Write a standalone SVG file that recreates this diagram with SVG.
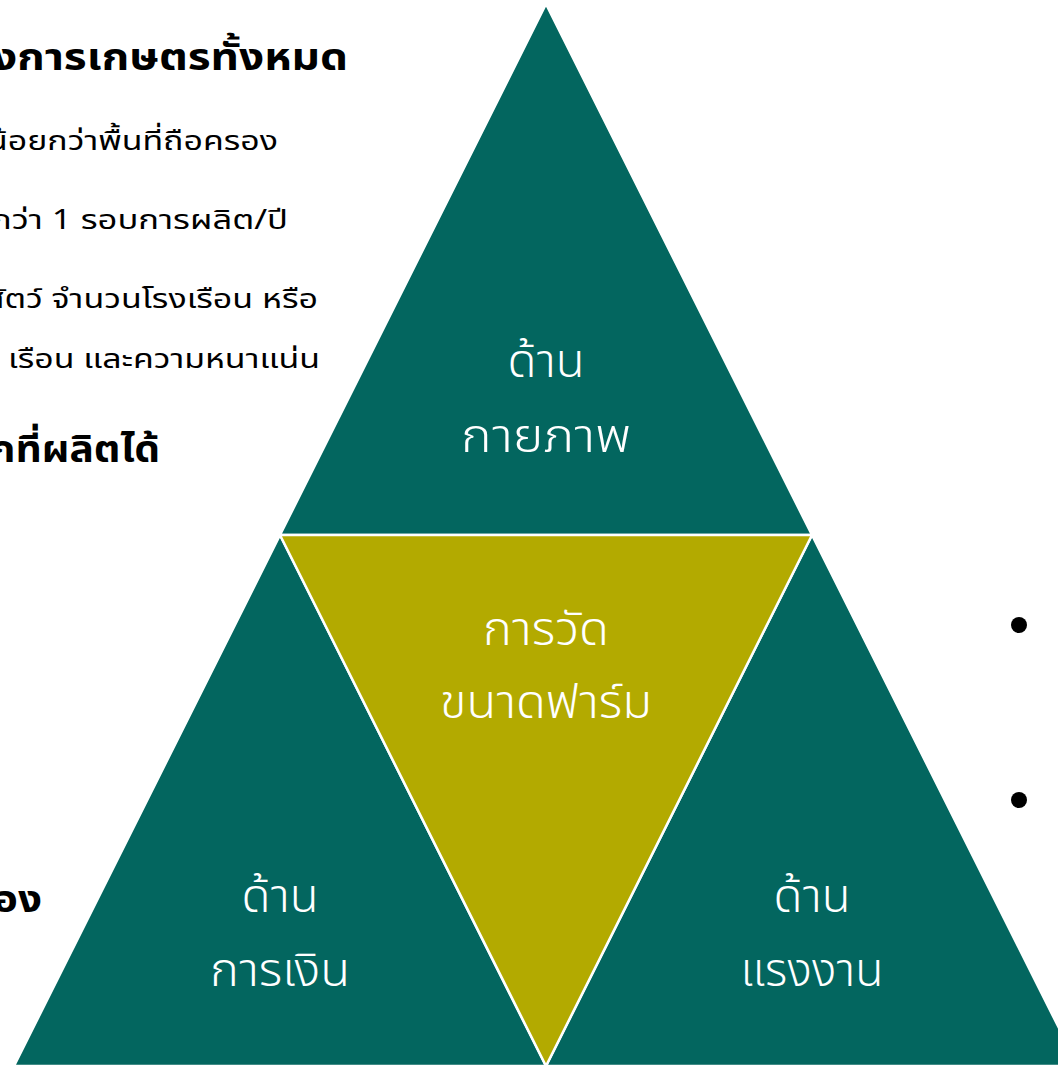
<svg xmlns="http://www.w3.org/2000/svg" width="1058" height="1066" viewBox="0 0 1058 1066">
<style>
.tri{fill:#03665F;stroke:#ffffff;stroke-width:2.5}
.mid{fill:#B3AA00;stroke:#ffffff;stroke-width:2.5}
.lbl{font-family:"Noto Sans Thai","Noto Sans","Noto Sans CJK SC",sans-serif;font-size:46px;fill:#ffffff;text-anchor:middle;font-weight:350}
.body{font-family:"Noto Sans Thai","Noto Sans","Noto Sans CJK SC",sans-serif;font-size:27px;fill:#000000}
.head{font-family:"Noto Sans Thai","Noto Sans","Noto Sans CJK SC",sans-serif;font-size:37px;font-weight:700;fill:#000000}
</style>
<rect width="1058" height="1066" fill="#ffffff"/>
<g id="left-text">
<text class="head" x="-8" y="70" textLength="356" lengthAdjust="spacingAndGlyphs">งการเกษตรทั้งหมด</text>
<text class="body" x="-13" y="150" textLength="291" lengthAdjust="spacingAndGlyphs">น้อยกว่าพื้นที่ถือครอง</text>
<text class="body" x="-9" y="229" textLength="297" lengthAdjust="spacingAndGlyphs">กว่า 1 รอบการผลิต/ปี</text>
<text class="body" x="-15" y="308" textLength="333" lengthAdjust="spacingAndGlyphs">สัตว์ จำนวนโรงเรือน หรือ</text>
<text class="body" x="8" y="368" textLength="312" lengthAdjust="spacingAndGlyphs">เรือน และความหนาแน่น</text>
<text class="head" x="-10" y="462" textLength="170" lengthAdjust="spacingAndGlyphs">กที่ผลิตได้</text>
<text class="head" x="-7" y="912" textLength="49" lengthAdjust="spacingAndGlyphs">อง</text>
</g>
<g id="bullets">
<circle cx="1019" cy="625" r="8" fill="#000000"/>
<circle cx="1019" cy="800" r="8" fill="#000000"/>
</g>
<g id="node-physical">
<polygon class="tri" points="546,4 812,535 280,535"/>
<text class="lbl" x="546" y="377" textLength="77" lengthAdjust="spacingAndGlyphs">ด้าน</text>
<text class="lbl" x="546" y="452" textLength="170" lengthAdjust="spacingAndGlyphs">กายภาพ</text>
</g>
<g id="node-financial">
<polygon class="tri" points="280,535 546,1066 14,1066"/>
<text class="lbl" x="280" y="912" textLength="77" lengthAdjust="spacingAndGlyphs">ด้าน</text>
<text class="lbl" x="280" y="986" textLength="140" lengthAdjust="spacingAndGlyphs">การเงิน</text>
</g>
<g id="node-labour">
<polygon class="tri" points="812,535 1078,1066 546,1066"/>
<text class="lbl" x="812" y="912" textLength="77" lengthAdjust="spacingAndGlyphs">ด้าน</text>
<text class="lbl" x="812" y="986" textLength="143" lengthAdjust="spacingAndGlyphs">แรงงาน</text>
</g>
<g id="node-center">
<polygon class="mid" points="280,535 812,535 546,1066"/>
<text class="lbl" x="546" y="645" textLength="126" lengthAdjust="spacingAndGlyphs">การวัด</text>
<text class="lbl" x="546" y="718" textLength="212" lengthAdjust="spacingAndGlyphs">ขนาดฟาร์ม</text>
</g>
<g id="connectors"></g>
</svg>
